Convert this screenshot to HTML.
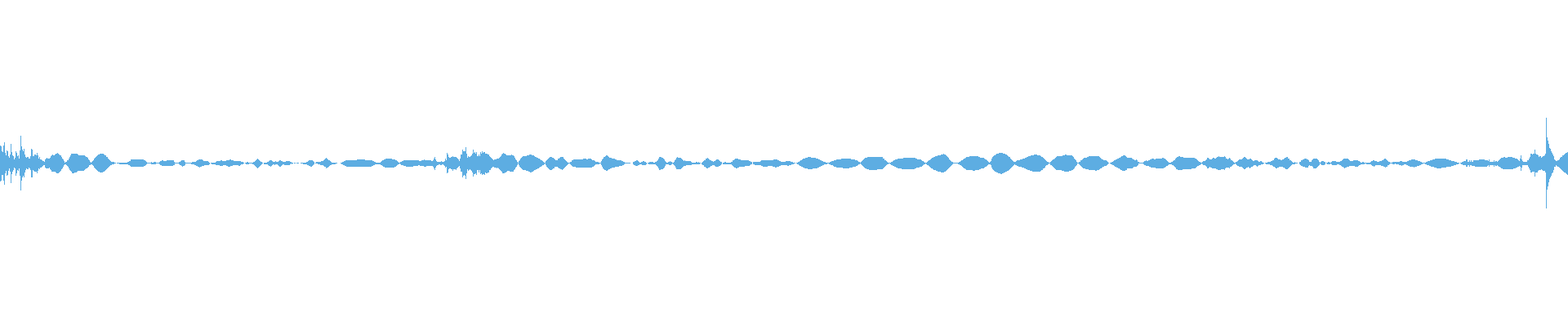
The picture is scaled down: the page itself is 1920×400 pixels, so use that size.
<!DOCTYPE html>
<html><head><meta charset="utf-8"><title>waveform</title>
<style>html,body{margin:0;padding:0;background:#fff;overflow:hidden}svg{display:block}</style>
</head><body>
<svg width="1920" height="400" viewBox="0 0 1920 400" shape-rendering="crispEdges">
<rect width="1920" height="400" fill="#fff"/>
<path fill="#5dade2" d="M0 178H1V179H2V185H3V186H4V178H5V174H6V187H7V190H8V184H9V185H10V191H11V193H12V189H13V176H14V186H15V190H16V191H17V195H18V193H19V185H20V187H21V191H22V190H23V194H24V184H25V166H26V179H27V183H28V185H29V182H30V189H31V192H32V193H33V192H35V194H37V191H38V182H39V183H40V191H42V189H44V190H45V187H46V190H47V194H48V192H49V195H51V196H52V197H54V198H55V195H56V194H57V193H58V194H61V193H62V191H63V190H64V189H65V190H67V189H68V188H70V187H71V188H72V189H73V190H75V192H76V194H77V195H78V197H79V199H80V198H82V196H84V194H85V192H86V190H87V188H95V189H96V190H104V191H105V192H107V193H108V195H109V196H110V198H111V199H112V198H113V197H114V196H115V194H116V193H117V192H118V191H119V190H120V189H122V188H127V189H128V190H130V192H132V194H133V195H134V196H135V197H136V198H140V199H142V200H140V201H137V202H135V203H134V204H133V205H132V206H131V207H130V208H129V209H128V210H126V211H122V210H120V209H119V208H118V207H117V206H116V205H115V203H114V202H113V201H111V202H109V204H108V205H107V206H105V207H104V208H103V209H95V210H94V211H91V212H88V210H87V209H86V208H85V206H84V204H83V203H82V202H81V201H79V202H78V204H77V206H76V207H75V209H74V210H73V211H72V212H69V211H68V210H63V208H62V207H61V205H60V206H56V205H55V202H53V203H52V204H51V205H49V207H48V206H47V209H46V212H45V210H42V209H41V208H40V217H38V208H37V206H36V205H35V207H33V206H32V208H31V211H30V217H29V215H28V217H27V221H26V233H25V215H24V206H23V209H22V208H21V212H20V215H19V206H18V205H17V208H16V210H15V213H14V224H13V210H12V206H11V209H10V214H9V215H8V209H7V212H6V226H5V221H4V214H2V221H1V222H0ZM143 199H156V198H158V197H160V195H176V196H178V197H179V198H180V199H185V198H186V199H188V198H191V199H195V198H196V197H198V196H200V197H204V196H213V198H214V199H219V198H221V197H222V196H226V198H227V199H235V198H240V197H241V196H243V195H248V196H249V197H255V198H256V199H257V201H256V202H250V203H247V204H245V205H244V204H242V203H240V202H238V201H234V200H227V202H226V203H224V204H223V203H222V202H220V201H219V200H214V202H212V203H198V202H196V201H195V200H191V201H185V200H180V201H179V202H178V203H176V204H160V203H159V202H157V201H146V200H143ZM258 199H264V198H265V197H270V196H272V197H277V196H281V195H283V196H286V197H295V198H298V199H299V200H298V201H295V202H294V203H292V202H285V203H282V204H279V203H277V202H273V203H269V202H264V201H259V200H258ZM300 199H302V198H304V199H310V198H312V197H313V196H314V195H315V194H316V195H317V196H318V197H319V198H321V199H322V200H321V201H320V202H319V203H318V204H317V205H316V206H315V205H314V204H313V203H312V202H311V201H309V200H305V201H301V200H300ZM323 199H327V198H329V197H330V196H333V197H334V198H337V197H338V198H341V197H342V196H344V197H346V198H350V197H355V198H357V199H359V200H358V201H357V200H356V201H355V202H348V201H346V202H345V203H344V204H342V203H341V202H340V201H337V202H336V201H334V202H333V203H332V204H331V203H329V202H328V201H323ZM360 199H362V200H360ZM363 199H366V200H363ZM368 199H375V198H377V197H378V196H383V197H384V198H385V201H384V202H383V203H382V204H380V203H378V202H376V201H371V200H368ZM386 199H387V198H393V197H396V196H397V195H398V194H399V193H400V194H401V195H402V196H404V197H405V198H406V199H413V200H411V201H406V202H404V203H403V204H402V205H400V206H399V204H397V203H396V202H392V201H389V200H386ZM417 199H419V198H421V197H423V196H437V195H447V196H456V197H458V198H460V199H466V198H467V197H468V196H470V195H472V194H480V195H484V196H486V197H487V198H488V199H490V198H492V197H494V196H513V197H516V196H519V195H520V196H528V197H530V196H531V194H532V192H533V195H534V197H535V198H540V197H541V198H544V197H545V194H546V196H547V187H548V189H549V192H550V193H552V192H554V191H555V192H559V193H560V194H561V195H562V197H563V194H564V189H566V183H567V185H570V180H571V188H572V193H573V191H574V192H576V191H577V190H578V188H579V183H580V187H581V186H582V188H583V186H584V191H586V189H587V191H588V186H589V188H590V185H591V187H592V186H594V188H597V189H599V191H600V192H601V193H602V194H603V195H604V196H605V195H608V194H611V193H612V192H613V191H614V189H615V188H616V187H617V188H619V189H620V190H626V189H627V190H629V191H630V193H631V195H632V196H633V198H634V199H635V197H636V196H637V194H638V193H639V192H640V191H645V190H648V189H651V190H654V191H655V192H657V193H659V194H661V195H662V196H664V197H665V198H666V199H668V197H669V196H670V195H671V194H672V193H673V192H676V193H678V194H679V195H680V196H683V194H685V193H686V192H690V194H691V195H692V196H693V197H694V198H695V199H698V198H700V196H702V195H714V194H718V195H720V194H724V195H725V196H728V197H729V198H733V199H736V197H737V195H738V194H739V192H741V191H742V190H744V191H745V192H746V193H749V194H753V195H755V196H761V197H763V198H765V199H772V200H765V201H764V202H762V203H758V204H753V205H749V206H747V207H745V208H744V209H742V208H740V207H739V206H738V204H737V202H736V200H734V201H729V202H728V203H727V204H725V205H705V204H701V203H700V202H699V201H698V200H696V201H695V202H694V203H693V204H692V205H691V206H690V207H689V208H688V207H686V206H684V205H683V204H679V206H677V207H676V208H673V207H672V206H671V205H670V204H669V202H668V200H667V201H666V202H664V203H663V204H661V205H660V206H658V207H656V208H654V209H653V210H651V211H649V210H647V209H644V208H640V207H639V206H638V205H637V204H636V202H635V200H634V202H633V204H632V205H631V207H630V208H629V210H624V209H621V210H620V211H618V212H615V210H614V209H613V208H612V207H611V206H610V205H609V206H608V205H605V204H603V205H602V206H601V208H599V211H597V212H595V211H594V214H593V213H591V214H590V212H589V213H588V208H587V211H586V208H584V214H583V212H582V213H580V216H579V211H578V209H577V208H576V207H575V208H574V209H573V207H572V212H571V219H570V215H569V214H568V215H567V217H566V210H564V206H563V203H562V204H561V205H560V206H559V208H558V207H555V209H554V207H552V206H550V207H549V211H548V212H547V204H546V205H545V203H544V202H543V201H541V202H539V201H537V202H535V203H534V205H533V208H532V206H531V204H530V203H522V204H519V203H514V202H512V203H506V204H497V203H494V202H491V201H490V200H489V201H487V202H486V203H485V204H483V205H471V204H469V203H468V202H466V201H459V202H457V203H455V204H424V203H422V202H420V201H418V200H417ZM775 198H777V197H779V196H781V197H782V198H783V199H785V198H787V197H789V198H791V199H792V201H791V202H786V201H783V202H781V203H778V202H776V201H775ZM793 199H795V198H800V199H802V198H804V197H805V196H806V194H807V192H810V193H812V194H813V195H814V197H815V198H816V199H818V198H820V197H821V198H823V199H825V198H826V196H827V195H828V193H829V192H830V193H834V194H835V195H836V196H837V197H838V196H839V197H846V198H847V199H852V198H854V199H855V198H856V199H858V200H857V201H847V202H840V203H837V204H836V205H835V206H834V207H828V205H827V203H826V202H825V201H824V200H823V201H822V202H819V201H815V203H814V205H813V206H812V207H809V208H807V206H806V204H805V203H804V202H803V201H794V200H793ZM859 199H860V198H861V197H862V196H864V194H866V193H867V194H868V195H869V196H871V197H873V198H874V197H876V196H877V195H880V196H881V197H882V198H884V201H883V202H882V203H880V204H876V203H875V202H872V203H870V204H869V205H867V206H865V205H864V204H862V202H860V201H859ZM885 199H887V198H889V199H895V198H897V196H899V195H900V194H904V195H907V196H917V197H919V198H921V201H919V202H918V203H912V204H905V205H903V206H901V205H899V204H898V203H897V202H896V201H885ZM922 198H931V197H932V196H947V195H952V196H954V197H956V198H962V197H968V198H971V199H974V200H972V201H969V202H966V203H964V202H956V203H954V204H951V205H949V204H946V203H940V204H934V203H932V202H924V201H922ZM975 199H977V198H979V197H980V196H982V195H983V194H986V193H989V192H993V193H999V194H1002V195H1004V196H1006V197H1008V198H1011V199H1016V198H1018V197H1021V196H1024V195H1030V194H1042V195H1047V196H1050V197H1051V198H1053V199H1054V198H1055V197H1056V196H1057V195H1058V194H1059V193H1062V192H1081V194H1083V196H1085V197H1086V198H1087V199H1091V198H1093V197H1094V196H1096V195H1099V194H1106V193H1121V194H1123V195H1128V196H1129V197H1131V198H1132V199H1135V198H1136V197H1137V196H1139V195H1140V194H1141V193H1143V192H1145V191H1148V190H1152V189H1155V188H1156V189H1158V190H1159V191H1160V192H1161V193H1162V195H1163V196H1164V197H1165V198H1167V199H1174V198H1176V197H1177V196H1179V195H1180V194H1182V193H1183V192H1187V191H1198V192H1200V193H1205V194H1206V195H1208V196H1209V197H1210V198H1211V199H1212V198H1213V197H1214V194H1215V192H1216V191H1217V190H1219V189H1220V188H1223V187H1228V188H1231V189H1233V190H1234V191H1235V192H1237V194H1238V195H1239V196H1240V197H1241V198H1244V197H1245V196H1249V195H1252V194H1255V193H1257V192H1259V191H1262V190H1266V189H1270V190H1274V191H1275V192H1277V193H1278V194H1279V195H1280V196H1281V197H1282V198H1284V199H1286V198H1287V197H1288V196H1289V195H1291V194H1292V193H1293V192H1294V191H1301V190H1304V189H1306V190H1313V191H1314V192H1315V194H1316V195H1317V196H1318V198H1319V199H1321V198H1323V196H1325V195H1326V194H1327V193H1331V192H1333V191H1346V192H1347V193H1348V194H1349V195H1351V196H1355V197H1356V198H1357V199H1358V200H1357V201H1356V202H1355V203H1352V204H1350V205H1349V206H1347V207H1346V208H1343V209H1341V208H1333V207H1329V206H1326V205H1325V204H1324V203H1323V202H1322V201H1321V200H1319V202H1318V203H1317V204H1316V206H1315V207H1314V208H1312V209H1309V210H1303V209H1300V208H1293V207H1292V206H1291V205H1290V204H1289V203H1288V202H1286V200H1284V201H1283V202H1281V203H1280V205H1279V206H1277V208H1275V209H1274V210H1264V209H1261V208H1258V207H1256V206H1254V205H1251V204H1247V203H1245V202H1243V201H1242V202H1241V203H1240V204H1239V205H1238V206H1237V207H1236V208H1235V209H1233V210H1231V211H1229V212H1227V213H1225V212H1222V211H1220V210H1218V209H1217V208H1216V207H1215V205H1214V202H1213V201H1210V202H1209V203H1208V204H1206V205H1205V206H1201V207H1199V208H1194V209H1191V208H1183V207H1182V206H1180V205H1179V204H1178V203H1177V202H1175V201H1173V200H1167V201H1166V202H1165V203H1164V204H1163V205H1162V206H1161V207H1160V208H1159V209H1158V210H1156V211H1152V210H1148V209H1146V208H1143V207H1142V206H1140V205H1139V204H1138V203H1137V202H1135V201H1134V200H1133V201H1131V202H1130V203H1129V204H1126V205H1122V206H1120V207H1104V206H1099V205H1097V204H1095V203H1093V202H1091V201H1090V200H1088V201H1086V202H1085V203H1084V204H1083V205H1082V206H1081V207H1074V208H1064V207H1061V206H1059V205H1058V204H1057V203H1056V202H1055V201H1054V200H1053V201H1051V202H1050V203H1048V204H1044V205H1040V206H1032V205H1024V204H1021V203H1020V202H1017V201H1015V200H1013V201H1009V202H1007V203H1005V204H1003V205H1001V206H995V207H989V206H985V205H983V204H981V203H979V202H978V201H976V200H975ZM1359 199H1361V198H1363V197H1364V196H1366V195H1368V194H1370V193H1372V192H1373V191H1375V190H1378V191H1379V192H1380V193H1386V194H1387V195H1389V196H1391V195H1392V196H1393V198H1395V199H1400V198H1401V197H1403V196H1404V197H1406V196H1408V195H1410V194H1413V195H1415V194H1423V193H1425V194H1427V195H1428V196H1429V197H1430V198H1431V199H1434V198H1436V197H1437V196H1439V194H1440V193H1441V192H1443V191H1445V192H1449V193H1463V194H1465V195H1466V196H1467V197H1468V198H1470V199H1472V198H1473V197H1476V196H1477V195H1478V193H1480V194H1481V195H1484V194H1485V193H1487V194H1489V193H1490V192H1492V191H1493V192H1499V191H1500V192H1501V194H1503V195H1504V194H1505V193H1506V194H1507V196H1509V197H1510V198H1511V199H1513V198H1515V197H1516V196H1517V195H1521V194H1522V193H1523V192H1525V193H1526V194H1527V195H1530V194H1532V195H1533V196H1534V197H1536V196H1540V197H1541V198H1543V197H1545V198H1546V199H1548V200H1547V201H1544V202H1541V203H1540V204H1539V203H1538V202H1535V203H1534V204H1532V205H1531V206H1530V205H1529V204H1528V205H1526V206H1525V207H1523V206H1522V205H1521V204H1517V203H1515V202H1514V201H1513V200H1512V201H1510V202H1509V203H1508V204H1506V206H1505V205H1501V206H1500V208H1499V207H1495V208H1491V207H1489V206H1484V205H1482V204H1481V205H1480V206H1478V204H1477V203H1476V202H1473V201H1472V200H1471V201H1470V202H1468V203H1466V204H1465V205H1464V206H1459V207H1448V208H1442V207H1440V205H1439V204H1438V203H1437V202H1435V201H1431V202H1430V203H1428V204H1427V205H1425V206H1415V205H1409V204H1407V203H1403V202H1401V201H1400V200H1394V202H1393V203H1392V204H1388V205H1387V206H1380V208H1378V209H1374V208H1372V207H1371V206H1369V205H1367V204H1365V203H1364V202H1362V201H1360V200H1359ZM1549 199H1552V198H1556V197H1558V196H1560V194H1561V193H1564V194H1565V195H1568V196H1570V195H1572V194H1573V193H1575V192H1577V194H1579V196H1581V197H1582V198H1583V199H1585V198H1586V199H1589V200H1586V201H1582V202H1581V203H1580V204H1579V205H1578V206H1577V207H1574V206H1573V205H1571V204H1566V205H1564V206H1562V205H1561V204H1559V203H1558V202H1555V201H1550V200H1549ZM1591 198H1593V196H1595V195H1597V194H1600V195H1602V196H1603V198H1606V196H1607V195H1608V194H1613V195H1614V196H1615V198H1616V199H1617V198H1618V197H1621V198H1623V201H1622V202H1618V201H1617V200H1616V202H1615V203H1614V204H1613V205H1612V206H1608V204H1607V203H1604V202H1603V203H1602V205H1598V204H1595V203H1593V202H1592V201H1591ZM1624 199H1626V198H1628V199H1630V198H1631V197H1636V198H1641V197H1643V196H1644V195H1645V194H1651V195H1652V196H1653V197H1657V196H1663V197H1665V198H1666V199H1668V198H1670V199H1678V198H1679V197H1681V196H1683V197H1686V198H1689V197H1692V196H1694V195H1695V194H1697V195H1698V196H1699V197H1700V198H1702V199H1705V198H1714V197H1717V198H1723V197H1725V196H1728V195H1733V196H1736V197H1739V198H1741V199H1746V198H1748V197H1751V196H1754V195H1757V194H1771V195H1774V196H1777V197H1781V198H1784V199H1787V200H1786V201H1783V202H1780V203H1777V204H1771V205H1765V206H1759V205H1756V204H1752V203H1750V202H1747V201H1745V200H1742V201H1740V202H1738V203H1735V204H1732V205H1731V204H1726V203H1724V202H1722V201H1719V202H1717V203H1716V202H1713V201H1709V200H1708V201H1705V200H1702V201H1701V202H1699V204H1697V205H1696V204H1694V203H1691V202H1684V203H1683V204H1682V203H1680V202H1679V201H1673V200H1671V201H1666V202H1664V203H1663V204H1659V203H1652V204H1649V205H1647V206H1646V205H1645V204H1643V203H1642V202H1640V201H1637V202H1631V201H1630V200H1629V201H1625V200H1624ZM1788 199H1790V198H1792V197H1795V195H1797V198H1799V196H1800V198H1801V196H1802V198H1804V196H1811V195H1818V196H1822V197H1823V195H1824V198H1829V196H1830V198H1831V197H1833V198H1834V197H1835V196H1836V195H1837V194H1838V193H1841V192H1843V193H1846V192H1852V193H1855V194H1858V195H1859V196H1860V197H1861V194H1862V190H1863V195H1864V197H1865V198H1870V196H1872V194H1873V192H1874V188H1876V189H1877V188H1879V183H1880V188H1881V189H1883V190H1884V192H1885V191H1887V193H1888V192H1889V191H1891V190H1892V188H1893V144H1894V168H1895V172H1896V176H1897V181H1898V182H1899V185H1900V187H1901V189H1902V191H1903V195H1904V196H1905V197H1907V196H1909V195H1910V193H1911V192H1913V190H1915V189H1916V188H1917V187H1919V186H1920V214H1919V213H1918V212H1917V211H1915V210H1914V209H1913V208H1912V207H1911V206H1910V205H1909V204H1907V203H1906V202H1905V204H1903V208H1902V211H1901V212H1900V215H1899V217H1898V219H1897V223H1896V228H1895V232H1894V255H1893V211H1892V209H1889V208H1888V207H1887V208H1884V209H1883V211H1880V216H1879V210H1876V211H1874V208H1873V206H1872V204H1871V202H1864V205H1863V209H1862V204H1861V203H1860V204H1858V205H1856V206H1853V207H1840V206H1838V205H1837V204H1835V203H1834V202H1833V203H1831V202H1830V204H1829V202H1824V204H1823V202H1822V203H1821V204H1806V203H1802V202H1800V204H1799V202H1797V204H1795V202H1791V201H1789V200H1788Z"/>
</svg>
</body></html>
